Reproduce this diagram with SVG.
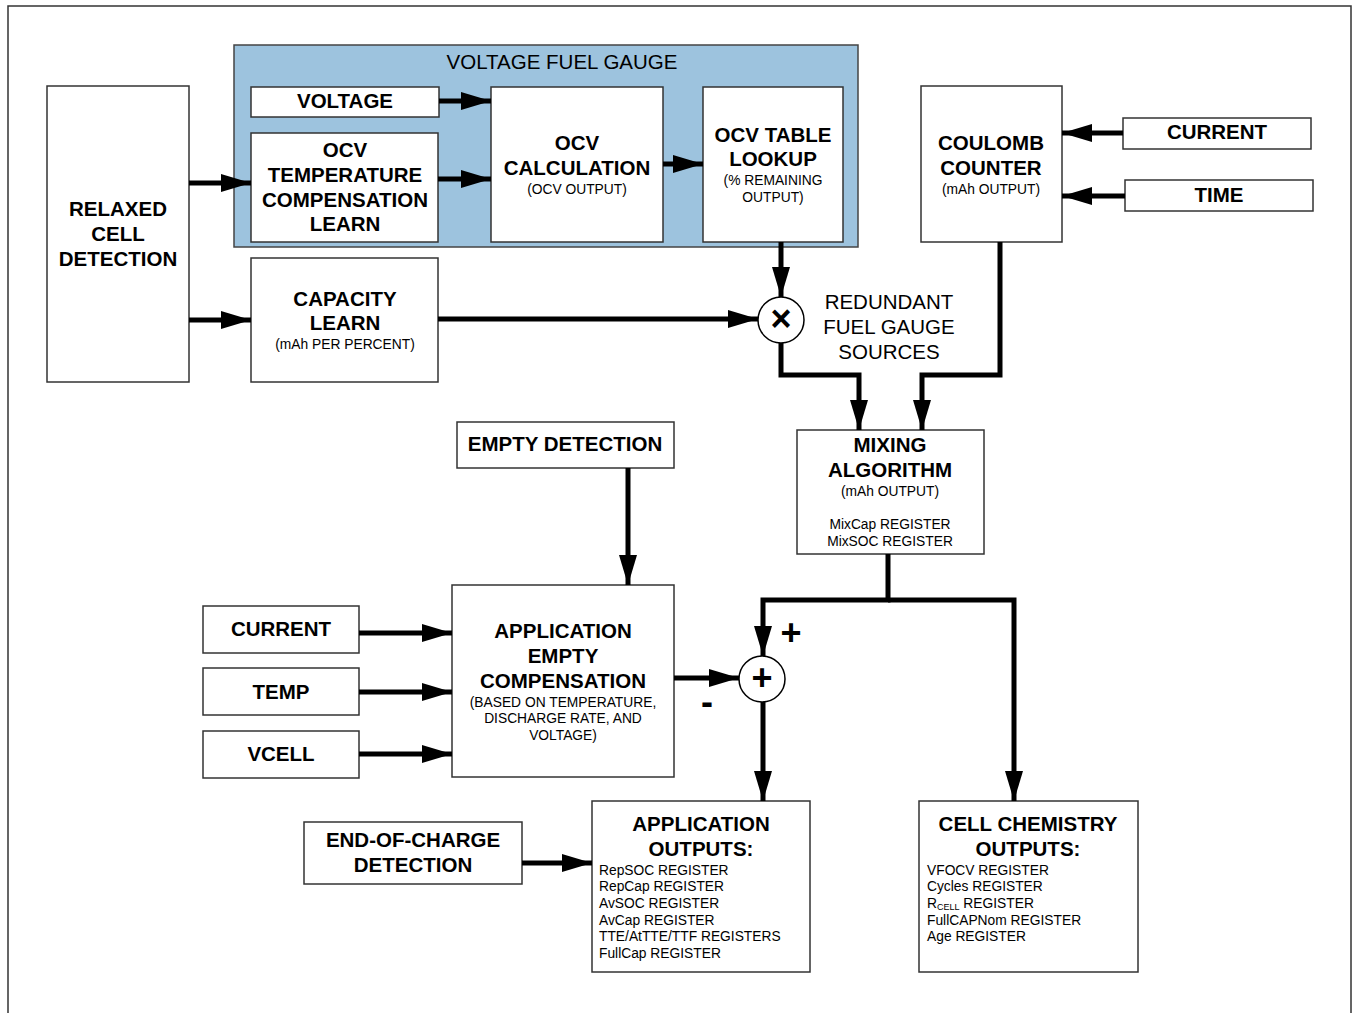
<svg xmlns="http://www.w3.org/2000/svg" width="1353" height="1013" viewBox="0 0 1353 1013">
<defs>
<marker id="ah" markerUnits="userSpaceOnUse" markerWidth="30" markerHeight="18" refX="30" refY="9" orient="auto">
<path d="M0,0 L30,9 L0,18 z" fill="#000"/>
</marker>
<style>
.box{fill:#fff;stroke:#333;stroke-width:1.5}
.panel{fill:#9dc3de;stroke:#444;stroke-width:1.5}
.b{font-family:"Liberation Sans",Arial,sans-serif;font-weight:bold;font-size:20.5px;fill:#000;text-anchor:middle}
.n{font-family:"Liberation Sans",Arial,sans-serif;font-size:20.5px;fill:#000;text-anchor:middle}
.s{font-family:"Liberation Sans",Arial,sans-serif;font-size:13.8px;fill:#000;text-anchor:middle}
.r{font-family:"Liberation Sans",Arial,sans-serif;font-size:13.8px;fill:#000}
.c{fill:none;stroke:#000;stroke-width:5;stroke-linejoin:miter}
.a{marker-end:url(#ah)}
.j{fill:#fff;stroke:#000;stroke-width:1.5}
.sym{font-family:"Liberation Sans",Arial,sans-serif;font-weight:bold;font-size:36px;fill:#000;text-anchor:middle}
</style>
</defs>
<rect x="8" y="6" width="1343" height="1020" fill="#fff" stroke="#333" stroke-width="1.5"/>

<g id="voltage-fuel-gauge">
<rect class="panel" x="234" y="45" width="624" height="202"/>
<text class="n" x="562" y="69">VOLTAGE FUEL GAUGE</text>
</g>
<g id="relaxed-cell-detection">
<rect class="box" x="47" y="86" width="142" height="296"/>
<text class="b" x="118" y="216">RELAXED</text>
<text class="b" x="118" y="241">CELL</text>
<text class="b" x="118" y="266">DETECTION</text>
</g>
<g id="voltage">
<rect class="box" x="251" y="87" width="188" height="30"/>
<text class="b" x="345" y="108">VOLTAGE</text>
</g>
<g id="ocv-temp-comp">
<rect class="box" x="251" y="133" width="187" height="109"/>
<text class="b" x="345" y="157">OCV</text>
<text class="b" x="345" y="182">TEMPERATURE</text>
<text class="b" x="345" y="207">COMPENSATION</text>
<text class="b" x="345" y="231">LEARN</text>
</g>
<g id="ocv-calculation">
<rect class="box" x="491" y="87" width="172" height="155"/>
<text class="b" x="577" y="150">OCV</text>
<text class="b" x="577" y="175">CALCULATION</text>
<text class="s" x="577" y="194">(OCV OUTPUT)</text>
</g>
<g id="ocv-table-lookup">
<rect class="box" x="703" y="87" width="140" height="155"/>
<text class="b" x="773" y="142">OCV TABLE</text>
<text class="b" x="773" y="166">LOOKUP</text>
<text class="s" x="773" y="185">(% REMAINING</text>
<text class="s" x="773" y="202">OUTPUT)</text>
</g>
<g id="coulomb-counter">
<rect class="box" x="921" y="86" width="141" height="156"/>
<text class="b" x="991" y="150">COULOMB</text>
<text class="b" x="991" y="175">COUNTER</text>
<text class="s" x="991" y="194">(mAh OUTPUT)</text>
</g>
<g id="current-top">
<rect class="box" x="1123" y="118" width="188" height="31"/>
<text class="b" x="1217" y="139">CURRENT</text>
</g>
<g id="time">
<rect class="box" x="1125" y="180" width="188" height="31"/>
<text class="b" x="1219" y="202">TIME</text>
</g>
<g id="capacity-learn">
<rect class="box" x="251" y="258" width="187" height="124"/>
<text class="b" x="345" y="306">CAPACITY</text>
<text class="b" x="345" y="330">LEARN</text>
<text class="s" x="345" y="349">(mAh PER PERCENT)</text>
</g>
<g id="redundant-label">
<text class="n" x="889" y="309">REDUNDANT</text>
<text class="n" x="889" y="334">FUEL GAUGE</text>
<text class="n" x="889" y="359">SOURCES</text>
</g>
<g id="empty-detection">
<rect class="box" x="457" y="422" width="217" height="46"/>
<text class="b" x="565" y="451">EMPTY DETECTION</text>
</g>
<g id="mixing-algorithm">
<rect class="box" x="797" y="430" width="187" height="124"/>
<text class="b" x="890" y="452">MIXING</text>
<text class="b" x="890" y="477">ALGORITHM</text>
<text class="s" x="890" y="496">(mAh OUTPUT)</text>
<text class="s" x="890" y="529">MixCap REGISTER</text>
<text class="s" x="890" y="546">MixSOC REGISTER</text>
</g>
<g id="app-empty-comp">
<rect class="box" x="452" y="585" width="222" height="192"/>
<text class="b" x="563" y="638">APPLICATION</text>
<text class="b" x="563" y="663">EMPTY</text>
<text class="b" x="563" y="688">COMPENSATION</text>
<text class="s" x="563" y="707">(BASED ON TEMPERATURE,</text>
<text class="s" x="563" y="723">DISCHARGE RATE, AND</text>
<text class="s" x="563" y="740">VOLTAGE)</text>
</g>
<g id="current-left">
<rect class="box" x="203" y="606" width="156" height="47"/>
<text class="b" x="281" y="636">CURRENT</text>
</g>
<g id="temp">
<rect class="box" x="203" y="668" width="156" height="47"/>
<text class="b" x="281" y="699">TEMP</text>
</g>
<g id="vcell">
<rect class="box" x="203" y="731" width="156" height="47"/>
<text class="b" x="281" y="761">VCELL</text>
</g>
<g id="end-of-charge">
<rect class="box" x="304" y="822" width="218" height="62"/>
<text class="b" x="413" y="847">END-OF-CHARGE</text>
<text class="b" x="413" y="872">DETECTION</text>
</g>
<g id="application-outputs">
<rect class="box" x="592" y="801" width="218" height="171"/>
<text class="b" x="701" y="831">APPLICATION</text>
<text class="b" x="701" y="856">OUTPUTS:</text>
<text class="r" x="599" y="875">RepSOC REGISTER</text>
<text class="r" x="599" y="891">RepCap REGISTER</text>
<text class="r" x="599" y="908">AvSOC REGISTER</text>
<text class="r" x="599" y="925">AvCap REGISTER</text>
<text class="r" x="599" y="941">TTE/AtTTE/TTF REGISTERS</text>
<text class="r" x="599" y="958">FullCap REGISTER</text>
</g>
<g id="cell-chemistry-outputs">
<rect class="box" x="919" y="801" width="219" height="171"/>
<text class="b" x="1028" y="831">CELL CHEMISTRY</text>
<text class="b" x="1028" y="856">OUTPUTS:</text>
<text class="r" x="927" y="875">VFOCV REGISTER</text>
<text class="r" x="927" y="891">Cycles REGISTER</text>
<text class="r" x="927" y="908">R<tspan font-size="9px" dy="2">CELL</tspan><tspan dy="-2"> REGISTER</tspan></text>
<text class="r" x="927" y="925">FullCAPNom REGISTER</text>
<text class="r" x="927" y="941">Age REGISTER</text>
</g>

<g id="connectors">
<line class="c a" x1="189" y1="183" x2="251" y2="183"/>
<line class="c a" x1="189" y1="320" x2="251" y2="320"/>
<line class="c a" x1="439" y1="101" x2="491" y2="101"/>
<line class="c a" x1="438" y1="179" x2="491" y2="179"/>
<line class="c a" x1="663" y1="164" x2="703" y2="164"/>
<line class="c a" x1="781" y1="242" x2="781" y2="297"/>
<line class="c a" x1="438" y1="319" x2="758" y2="319"/>
<path class="c a" d="M781,343 V375 H859 V430"/>
<path class="c a" d="M1000,242 V375 H922 V430"/>
<line class="c a" x1="1123" y1="133" x2="1062" y2="133"/>
<line class="c a" x1="1125" y1="196" x2="1062" y2="196"/>
<line class="c a" x1="628" y1="468" x2="628" y2="585"/>
<path class="c a" d="M888,554 V600 H763 V656"/>
<path class="c a" d="M888,600 H1014 V801"/>
<line class="c a" x1="674" y1="678" x2="739" y2="678"/>
<line class="c a" x1="763" y1="702" x2="763" y2="801"/>
<line class="c a" x1="359" y1="633" x2="452" y2="633"/>
<line class="c a" x1="359" y1="692" x2="452" y2="692"/>
<line class="c a" x1="359" y1="754" x2="452" y2="754"/>
<line class="c a" x1="522" y1="863" x2="592" y2="863"/>
</g>

<g id="multiply-junction">
<circle class="j" cx="781" cy="320" r="23"/>
<text class="sym" x="781" y="331" font-size="34px">×</text>
</g>
<g id="sum-junction">
<circle class="j" cx="762" cy="679" r="23"/>
<text class="sym" x="762" y="690">+</text>
<text class="sym" x="791" y="645">+</text>
<text class="sym" x="707" y="714">-</text>
</g>
</svg>
